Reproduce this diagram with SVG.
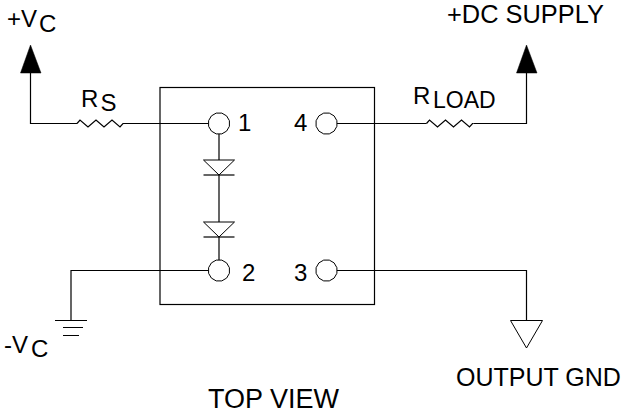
<svg xmlns="http://www.w3.org/2000/svg" width="623" height="414" viewBox="0 0 623 414">
<style>
.w{fill:none;stroke:#000;stroke-width:1.2}
.p{fill:#fff;stroke:#000;stroke-width:1}
.a{fill:#000;stroke:#000;stroke-width:.5}
text{font-family:"Liberation Sans",Arial,sans-serif;font-size:25.400px;fill:#000}
.b{font-size:24px}
</style>
<defs>
<polygon id="pin" class="p" points="-2.800,-10.400 2.800,-10.400 7.600,-7.600 10.400,-2.800 10.400,2.800 7.600,7.600 2.800,10.400 -2.800,10.400 -7.600,7.600 -10.400,2.800 -10.400,-2.800 -7.600,-7.600"/>
<g id="diode"><polygon class="p" points="-15.500,0 15.500,0 0,15"/><path class="w" d="M-15.500 15H15.500"/></g>
<path id="res" class="w" d="M0 0L3 -3.500L11 3.500L19 -3.500L27 3.500L35 -3.500L43 3.500L46 0H47"/>
</defs>
<g id="connectors">
<path class="w" d="M30.500 73V123.500H77M124 123.500H208.500"/>
<path class="w" d="M71 320.500V270.500H208.500"/>
<path class="w" d="M219 134V160M219 175V222M219 237V260"/>
<path class="w" d="M337 123.500H426.500M473.500 123.500H526.500V73"/>
<path class="w" d="M337 270.500H526.500V320"/>
</g>
<g id="package"><rect class="w" x="160" y="87.500" width="214.500" height="217"/></g>
<g id="vc-plus"><polygon class="a" points="30.500,45 20.500,73 41,73"/><text class="b" x="7" y="27">+V</text><text class="b" x="39" y="32">C</text></g>
<g id="rs"><use href="#res" x="77" y="123.500"/><text class="b" x="81" y="107">R</text><text class="b" x="100.500" y="111">S</text></g>
<g id="pin1"><use href="#pin" x="219" y="123.500"/><text class="b" x="238" y="131">1</text></g>
<g id="d1"><use href="#diode" x="219" y="160"/></g>
<g id="d2"><use href="#diode" x="219" y="222"/></g>
<g id="pin2"><use href="#pin" x="219" y="270.500"/><text class="b" x="242" y="280.500">2</text></g>
<g id="pin4"><use href="#pin" x="326.500" y="123.500"/><text class="b" x="294" y="131">4</text></g>
<g id="pin3"><use href="#pin" x="326.500" y="270.500"/><text class="b" x="294" y="280.500">3</text></g>
<g id="rload"><use href="#res" x="426.500" y="123.500"/><text class="b" x="413" y="104">R</text><text x="433" y="108" style="font-size:23px">LOAD</text></g>
<g id="dc-supply"><polygon class="a" points="526.500,45 516.500,73 537,73"/><text x="447" y="23">+DC SUPPLY</text></g>
<g id="ground"><path class="w" d="M55 320.500H87M63 327.500H83M63 335.500H79"/><text class="b" x="4" y="353">-V</text><text class="b" x="31" y="357">C</text></g>
<g id="output-gnd"><polygon class="p" points="510.500,320.500 542.500,320.500 526.500,348"/><text x="456" y="386" style="font-size:25px">OUTPUT GND</text></g>
<text id="top-view" x="208" y="408" style="font-size:27px">TOP VIEW</text>
</svg>
